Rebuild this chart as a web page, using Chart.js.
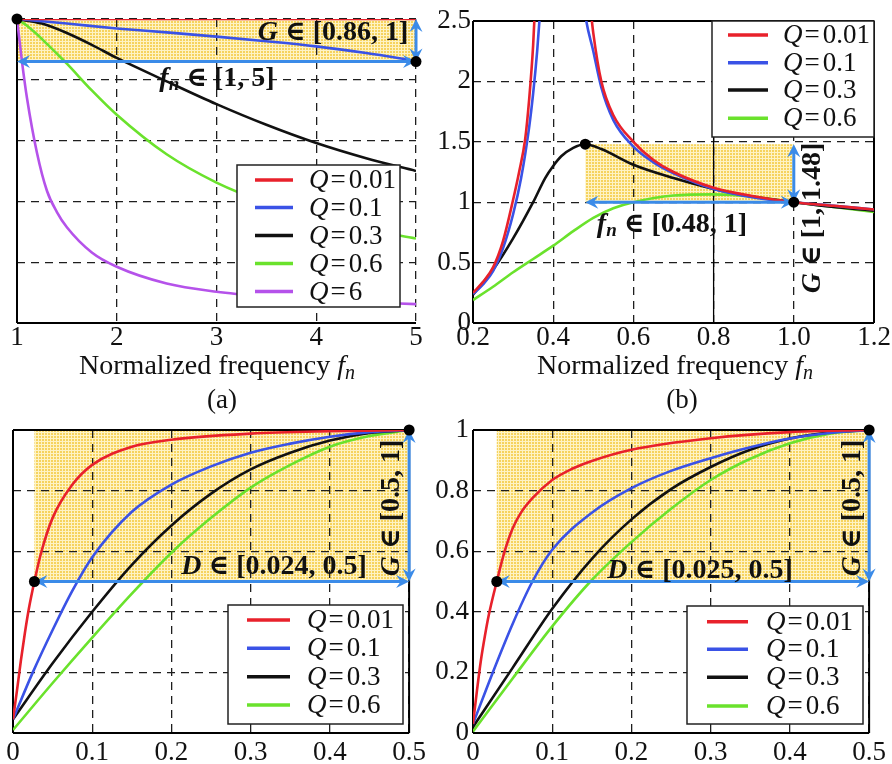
<!DOCTYPE html>
<html><head><meta charset="utf-8">
<script src="https://cdn.jsdelivr.net/npm/chart.js@4.4.1/dist/chart.umd.min.js"></script>
<style>
html,body{margin:0;padding:0;background:#fff;width:892px;height:764px;overflow:hidden;position:relative}
canvas{position:absolute;display:block}
</style></head><body>
<canvas id="ca" width="432" height="420" style="left:0;top:0"></canvas>
<canvas id="cb" width="462" height="420" style="left:430px;top:0"></canvas>
<canvas id="cc" width="432" height="364" style="left:0;top:400px"></canvas>
<canvas id="cd" width="462" height="364" style="left:430px;top:400px"></canvas>
<script>
// ================= DATA =================
const qLabels5 = ['0.01','0.1','0.3','0.6','6'];
const qLabels4 = ['0.01','0.1','0.3','0.6'];

// (a) G vs fn, fn in [1,5]
const aXTicks = ['1','2','3','4','5'];
const aFn001 = [1,2,3,4,5];
const aG001  = [1,1,1,1,1];
const aFn01  = [1,1.5,2,2.5,3,3.5,4,4.5,5];
const aG01   = [1,0.985,0.969,0.956,0.942,0.927,0.91,0.888,0.862];
const aFn03  = [1,1.25,1.5,1.75,2,2.5,3,3.5,4,4.5,5];
const aG03   = [1,0.985,0.954,0.915,0.872,0.795,0.72,0.652,0.592,0.542,0.5];
const aFn06  = [1,1.1,1.2,1.3,1.4,1.5,1.75,2,2.5,3,3.5,4,4.5,5];
const aG06   = [1,0.978,0.95,0.918,0.886,0.853,0.765,0.685,0.555,0.462,0.395,0.345,0.308,0.278];
const aFn6   = [1,1.025,1.05,1.1,1.2,1.3,1.4,1.5,1.75,2,2.5,3,3.5,4,4.5,5];
const aG6    = [1,0.93,0.86,0.74,0.56,0.435,0.365,0.315,0.232,0.185,0.13,0.103,0.087,0.076,0.068,0.062];
const aFnRange = [1,5], aGRange = [0.86,1];

// (b) G vs fn, fn in [0.2,1.2]
const bXTicks = ['0.2','0.4','0.6','0.8','1.0','1.2'];
const bYTicks = ['0','0.5','1','1.5','2','2.5'];
const bFn001 = [0.2,0.225,0.25,0.275,0.3,0.315,0.33,0.34,0.35,0.36,0.42,0.49,0.5,0.52,0.55,0.6,0.65,0.7,0.8,0.9,1.0,1.1,1.2];
const bG001  = [0.25,0.34,0.46,0.68,1.02,1.25,1.52,1.85,2.3,3.0,null,2.7,2.4,2.0,1.72,1.5,1.35,1.25,1.12,1.05,1.0,0.97,0.94];
const bFn01  = [0.2,0.225,0.25,0.275,0.3,0.32,0.34,0.35,0.36,0.37,0.42,0.475,0.48,0.5,0.52,0.55,0.6,0.65,0.7,0.8,0.9,1.0,1.1,1.2];
const bG01   = [0.24,0.32,0.43,0.62,0.9,1.2,1.62,1.9,2.25,2.7,null,2.7,2.55,2.25,1.95,1.68,1.46,1.33,1.24,1.11,1.04,1.0,0.97,0.94];
const bFn03  = [0.2,0.25,0.3,0.35,0.38,0.4,0.42,0.45,0.48,0.52,0.6,0.7,0.8,0.9,1.0,1.1,1.2];
const bG03   = [0.234,0.44,0.7,1.0,1.2,1.3,1.38,1.45,1.48,1.44,1.31,1.2,1.11,1.045,1.0,0.96,0.93];
const bFn06  = [0.2,0.25,0.3,0.35,0.4,0.45,0.5,0.55,0.6,0.7,0.8,0.9,1.0,1.1,1.2];
const bG06   = [0.19,0.3,0.42,0.53,0.64,0.76,0.87,0.95,1.0,1.055,1.065,1.045,1.0,0.96,0.92];
const bFnRange = [0.48,1], bGRange = [1,1.48];

// (c) G vs D
const dXTicks = ['0','0.1','0.2','0.3','0.4','0.5'];
const dYTicks = ['0','0.2','0.4','0.6','0.8','1'];
const cD001 = [0,0.005,0.01,0.015,0.02,0.027,0.035,0.05,0.075,0.1,0.15,0.2,0.3,0.4,0.5];
const cG001 = [0.045,0.14,0.24,0.33,0.41,0.5,0.59,0.71,0.82,0.885,0.945,0.968,0.988,0.996,1.0];
const cD01  = [0,0.025,0.05,0.075,0.1,0.15,0.2,0.25,0.3,0.35,0.4,0.45,0.5];
const cG01  = [0.045,0.2,0.34,0.47,0.58,0.73,0.82,0.88,0.925,0.955,0.978,0.993,1.0];
const cD03  = [0,0.05,0.1,0.15,0.2,0.25,0.3,0.35,0.4,0.45,0.5];
const cG03  = [0.045,0.23,0.4,0.555,0.685,0.79,0.87,0.925,0.965,0.99,1.0];
const cD06  = [0,0.05,0.1,0.15,0.2,0.25,0.3,0.35,0.4,0.45,0.5];
const cG06  = [0.01,0.165,0.315,0.46,0.595,0.71,0.81,0.885,0.945,0.98,1.0];
const cDRange = [0.027,0.5], cGRange = [0.5,1];

// (d) G vs D
const dD001 = [0,0.005,0.01,0.015,0.02,0.03,0.04,0.05,0.06,0.075,0.1,0.125,0.15,0.2,0.3,0.4,0.5];
const dG001 = [0.03,0.14,0.24,0.32,0.39,0.5,0.6,0.675,0.725,0.775,0.835,0.872,0.898,0.935,0.973,0.993,1.0];
const dD01  = [0,0.025,0.05,0.075,0.1,0.15,0.2,0.25,0.3,0.35,0.4,0.45,0.5];
const dG01  = [0.03,0.2,0.36,0.5,0.605,0.727,0.808,0.865,0.907,0.943,0.972,0.99,1.0];
const dD03  = [0,0.05,0.1,0.15,0.2,0.25,0.3,0.35,0.4,0.45,0.5];
const dG03  = [0.02,0.215,0.41,0.575,0.705,0.805,0.878,0.935,0.972,0.992,1.0];
const dD06  = [0,0.05,0.1,0.15,0.2,0.25,0.3,0.35,0.4,0.45,0.5];
const dG06  = [0.005,0.18,0.352,0.505,0.63,0.74,0.835,0.905,0.956,0.988,1.0];
const dDRange = [0.03,0.5], dGRange = [0.5,1];

// ================= STYLE / HELPERS =================
const F = '"Liberation Serif","Times New Roman","DejaVu Serif",serif';
const RED='#e8212b', BLUE='#3a52e6', BLK='#111111', GRN='#6ae22c', PUR='#b552ea', ARW='#3b8be8';
const fnt = (sz, st) => (st ? st + ' ' : '') + sz + 'px ' + F;
const pts = (xs, ys) => xs.map((x, i) => ({x: x, y: ys[i]}));

function richWidth(ctx, parts){ let w=0; parts.forEach(p=>{ctx.font=p.f; w+=ctx.measureText(p.t).width+(p.gap||0);}); return w; }
function drawRich(ctx, parts, x, y, align){
  const w = richWidth(ctx, parts);
  let cx = align==='center' ? x-w/2 : (align==='right' ? x-w : x);
  ctx.textAlign='left';
  parts.forEach(p=>{ ctx.font=p.f; ctx.fillText(p.t, cx, y+(p.dy||0)); cx += ctx.measureText(p.t).width+(p.gap||0); });
}
function dblArrow(ctx, x1,y1,x2,y2){
  const L=13, H=6.5;
  const dx=x2-x1, dy=y2-y1, d=Math.hypot(dx,dy), ux=dx/d, uy=dy/d;
  ctx.beginPath(); ctx.moveTo(x1+ux*L*0.6, y1+uy*L*0.6); ctx.lineTo(x2-ux*L*0.6, y2-uy*L*0.6); ctx.stroke();
  const head=(tx,ty,vx,vy)=>{ ctx.beginPath(); ctx.moveTo(tx,ty);
    ctx.lineTo(tx-vx*L-vy*H, ty-vy*L+vx*H); ctx.lineTo(tx-vx*L*0.65, ty-vy*L*0.65);
    ctx.lineTo(tx-vx*L+vy*H, ty-vy*L-vx*H); ctx.closePath(); ctx.fill(); };
  head(x2,y2,ux,uy); head(x1,y1,-ux,-uy);
}
function yellowPattern(ctx){
  const p=document.createElement('canvas'); p.width=3; p.height=3;
  const g=p.getContext('2d'); g.fillStyle='#fef3c4'; g.fillRect(0,0,3,3);
  g.fillStyle='#f6d35e'; g.fillRect(0,0,2,2);
  return ctx.createPattern(p,'repeat');
}
const TS = 28;
const bI = (t)=>({t:t,f:fnt(TS,'italic bold')});
const bR = (t)=>({t:t,f:fnt(TS,'bold')});
const sub = (t)=>({t:t,f:fnt(19,'italic bold'),dy:6});

const annotPlugin = {
  id:'annot',
  beforeDraw(chart){
    const P=chart.config.options.panel, ctx=chart.ctx, xs=chart.scales.x, ys=chart.scales.y;
    const r=P.rect;
    const x1=xs.getPixelForValue(r.x[0]), x2=xs.getPixelForValue(r.x[1]);
    const y1=ys.getPixelForValue(r.y[1]), y2=ys.getPixelForValue(r.y[0]);
    ctx.save(); ctx.fillStyle=yellowPattern(ctx); ctx.fillRect(x1,y1,x2-x1,y2-y1); ctx.restore();
  },
  beforeDatasetsDraw(chart){
    const P=chart.config.options.panel, ctx=chart.ctx, a=chart.chartArea;
    ctx.save(); ctx.strokeStyle='#000'; ctx.lineWidth=2; ctx.setLineDash([]);
    const s=P.frame;
    ctx.beginPath();
    if(s.includes('l')){ctx.moveTo(a.left,a.top);ctx.lineTo(a.left,a.bottom);}
    if(s.includes('b')){ctx.moveTo(a.left,a.bottom);ctx.lineTo(a.right,a.bottom);}
    if(s.includes('r')){ctx.moveTo(a.right,a.top);ctx.lineTo(a.right,a.bottom);}
    if(s.includes('t')){ctx.moveTo(a.left,a.top);ctx.lineTo(a.right,a.top);}
    ctx.stroke();
    if(P.solidX){ const x=chart.scales.x.getPixelForValue(P.solidX); ctx.lineWidth=1.3;
      ctx.beginPath(); ctx.moveTo(x,a.bottom); ctx.lineTo(x,P.legend.y1); ctx.stroke(); }
    ctx.restore();
  },
  afterDatasetsDraw(chart){
    const P=chart.config.options.panel, ctx=chart.ctx, xs=chart.scales.x, ys=chart.scales.y;
    ctx.save();
    ctx.strokeStyle=ARW; ctx.fillStyle=ARW; ctx.lineWidth=3; ctx.setLineDash([]);
    P.arrows.forEach(ar=>dblArrow(ctx, xs.getPixelForValue(ar[0][0]), ys.getPixelForValue(ar[0][1]),
                                        xs.getPixelForValue(ar[1][0]), ys.getPixelForValue(ar[1][1])));
    ctx.fillStyle='#000';
    P.dots.forEach(d=>{ ctx.beginPath(); ctx.arc(xs.getPixelForValue(d[0]), ys.getPixelForValue(d[1]), 5.5, 0, Math.PI*2); ctx.fill(); });
    ctx.fillStyle='#111'; ctx.textBaseline='middle';
    P.texts.forEach(t=>{
      ctx.save(); ctx.translate(t.x,t.y); if(t.rot) ctx.rotate(t.rot);
      drawRich(ctx, t.parts, 0, 0, 'center'); ctx.restore();
    });
    const L=P.legend;
    ctx.fillStyle='#fff'; ctx.fillRect(L.x0,L.y0,L.x1-L.x0,L.y1-L.y0);
    ctx.strokeStyle='#222'; ctx.lineWidth=1.5; ctx.strokeRect(L.x0,L.y0,L.x1-L.x0,L.y1-L.y0);
    chart.data.datasets.forEach((ds,i)=>{
      const y=L.rows[i];
      ctx.strokeStyle=ds.borderColor; ctx.lineWidth=3.5;
      ctx.beginPath(); ctx.moveTo(L.lx0,y); ctx.lineTo(L.lx1,y); ctx.stroke();
      ctx.fillStyle='#111'; ctx.textBaseline='middle';
      drawRich(ctx,[{t:'Q',f:fnt(27,'italic'),gap:2},{t:'=',f:fnt(27),gap:3},{t:P.qLabels[i],f:fnt(27)}], L.tx, y+1, 'left');
    });
    ctx.restore();
  },
  afterDraw(chart){
    const P=chart.config.options.panel, ctx=chart.ctx;
    ctx.save(); ctx.fillStyle='#111'; ctx.textBaseline='alphabetic';
    if(P.title){ drawRich(ctx,[{t:'Normalized frequency ',f:fnt(28)},{t:'f',f:fnt(28,'italic')},{t:'n',f:fnt(20,'italic'),dy:5}], P.title.x, P.title.y, 'center'); }
    if(P.caption){ ctx.font=fnt(27); ctx.textAlign='center'; ctx.fillText(P.caption.t, P.caption.x, P.caption.y); }
    ctx.restore();
  }
};

function makeChart(id, W, H, area, xHeight, xAx, yAx, series, panel){
  const yWidth = yAx.show ? area.l : 0;
  const axisCommon = (ax, isX) => ({
    type:'linear', min:ax.min, max:ax.max,
    ticks:{ display: isX ? true : !!yAx.show, stepSize:ax.step, autoSkip:false, maxRotation:0, minRotation:0,
      padding: ax.pad, color:'#111', font:{family:F, size:27, lineHeight:1},
      callback:(v,i)=> (ax.labels && ax.labels[i]!==undefined) ? ax.labels[i] : String(v) },
    grid:{ color:'#1e1e1e', lineWidth:1.3, drawTicks:false },
    border:{ display:false, dash:[8,6] },
    afterFit: s => { if(isX) s.height = xHeight; else s.width = yWidth; }
  });
  return new Chart(document.getElementById(id), {
    type:'line',
    data:{ datasets: series.map(s=>({ data:pts(s.x,s.y), borderColor:s.c, backgroundColor:s.c, borderWidth:2.6,
      pointRadius:0, fill:false, cubicInterpolationMode:'monotone', spanGaps:false })) },
    options:{
      responsive:false, animation:false, events:[],
      layout:{ padding:{ left: area.l - yWidth, top: area.t, right: W - area.r, bottom: H - area.b - xHeight } },
      plugins:{ legend:{display:false}, tooltip:{enabled:false} },
      scales:{ x: axisCommon(xAx,true), y: axisCommon(yAx,false) },
      panel: panel
    },
    plugins:[annotPlugin]
  });
}

// ---------- (a) ----------
makeChart('ca', 432, 420, {l:17,t:19,r:416,b:323}, 40,
  {min:1,max:5,step:1,labels:aXTicks,pad:1}, {min:0,max:1,step:0.2,show:false,pad:3},
  [{x:aFn001,y:aG001,c:RED},{x:aFn01,y:aG01,c:BLUE},{x:aFn03,y:aG03,c:BLK},{x:aFn06,y:aG06,c:GRN},{x:aFn6,y:aG6,c:PUR}],
  { frame:'lb', qLabels:qLabels5,
    rect:{x:aFnRange,y:aGRange},
    arrows:[[[aFnRange[0],aGRange[0]],[aFnRange[1],aGRange[0]]],[[aFnRange[1],aGRange[1]],[aFnRange[1],aGRange[0]]]],
    dots:[[aFnRange[0],aGRange[1]],[aFnRange[1],aGRange[0]]],
    texts:[ {parts:[bI('G'),bR(' \u2208 [0.86, 1]')], x:333, y:33},
            {parts:[bI('f'),sub('n'),bR(' \u2208 [1, 5]')], x:217, y:79} ],
    legend:{x0:237,y0:165,x1:400,y1:307,rows:[180,207.5,235.5,263.5,291.5],lx0:255,lx1:293,tx:309},
    title:{x:217,y:374}, caption:{t:'(a)',x:222,y:408} });

// ---------- (b) ----------
makeChart('cb', 462, 420, {l:43,t:21,r:444,b:323}, 40,
  {min:0.2,max:1.2,step:0.2,labels:bXTicks,pad:1}, {min:0,max:2.5,step:0.5,labels:bYTicks,show:true,pad:2},
  [{x:bFn001,y:bG001,c:RED},{x:bFn01,y:bG01,c:BLUE},{x:bFn03,y:bG03,c:BLK},{x:bFn06,y:bG06,c:GRN}],
  { frame:'lbrt', qLabels:qLabels4, solidX:0.8,
    rect:{x:bFnRange,y:bGRange},
    arrows:[[[bFnRange[0],bGRange[0]],[bFnRange[1],bGRange[0]]],[[bFnRange[1],bGRange[1]],[bFnRange[1],bGRange[0]]]],
    dots:[[bFnRange[0],bGRange[1]],[bFnRange[1],bGRange[0]]],
    texts:[ {parts:[bI('f'),sub('n'),bR(' \u2208 [0.48, 1]')], x:242, y:225},
            {parts:[bI('G'),bR(' \u2208 [1, 1.48]')], x:383, y:218, rot:-Math.PI/2} ],
    legend:{x0:282,y0:21,x1:444,y1:137,rows:[35,62.7,90,118.3],lx0:298,lx1:338,tx:353},
    title:{x:245,y:374}, caption:{t:'(b)',x:252,y:408} });

// ---------- (c) ----------
makeChart('cc', 432, 364, {l:13,t:30,r:414,b:333}, 31,
  {min:0,max:0.5,step:0.1,labels:dXTicks,pad:6}, {min:0,max:1,step:0.2,show:false,pad:3},
  [{x:cD001,y:cG001,c:RED},{x:cD01,y:cG01,c:BLUE},{x:cD03,y:cG03,c:BLK},{x:cD06,y:cG06,c:GRN}],
  { frame:'lbrt', qLabels:qLabels4,
    rect:{x:cDRange,y:cGRange},
    arrows:[[[cDRange[0],cGRange[0]],[cDRange[1],cGRange[0]]],[[cDRange[1],cGRange[1]],[cDRange[1],cGRange[0]]]],
    dots:[[cDRange[0],cGRange[0]],[cDRange[1],cGRange[1]]],
    texts:[ {parts:[bI('D'),bR(' \u2208 [0.024, 0.5]')], x:274, y:167},
            {parts:[bI('G'),bR(' \u2208 [0.5, 1]')], x:392, y:108, rot:-Math.PI/2} ],
    legend:{x0:228,y0:205,x1:403,y1:324,rows:[220,248.3,276.7,305],lx0:247,lx1:290,tx:307} });

// ---------- (d) ----------
makeChart('cd', 462, 364, {l:43,t:30,r:444,b:333}, 31,
  {min:0,max:0.5,step:0.1,labels:dXTicks,pad:6}, {min:0,max:1,step:0.2,labels:dYTicks,show:true,pad:4},
  [{x:dD001,y:dG001,c:RED},{x:dD01,y:dG01,c:BLUE},{x:dD03,y:dG03,c:BLK},{x:dD06,y:dG06,c:GRN}],
  { frame:'lbrt', qLabels:qLabels4,
    rect:{x:dDRange,y:dGRange},
    arrows:[[[dDRange[0],dGRange[0]],[dDRange[1],dGRange[0]]],[[dDRange[1],dGRange[1]],[dDRange[1],dGRange[0]]]],
    dots:[[dDRange[0],dGRange[0]],[dDRange[1],dGRange[1]]],
    texts:[ {parts:[bI('D'),bR(' \u2208 [0.025, 0.5]')], x:270, y:171},
            {parts:[bI('G'),bR(' \u2208 [0.5, 1]')], x:423, y:108, rot:-Math.PI/2} ],
    legend:{x0:257,y0:206,x1:433,y1:324,rows:[221.7,249.3,277.3,306],lx0:277,lx1:318,tx:336} });
</script>
</body></html>
